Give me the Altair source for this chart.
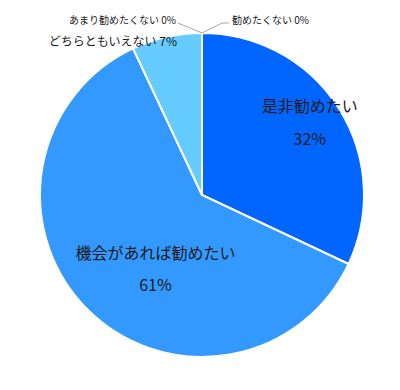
import altair as alt
import pandas as pd

categories = ["是非勧めたい", "機会があれば勧めたい", "どちらともいえない", "あまり勧めたくない", "勧めたくない"]
values = [32, 61, 7, 0.0001, 0.0001]
pct_labels = ["32%", "61%", "7%", "0%", "0%"]
colors = ["#0066FF", "#3399FF", "#66CCFF", "#99DDFF", "#CCEEFF"]

df = pd.DataFrame({
    "cat": categories,
    "val": values,
    "pct": pct_labels,
    "order": list(range(len(categories))),
})

CX, CY, R = 194, 187, 162
FONT = "Noto Sans CJK JP"

base = alt.Chart(df).transform_stack(
    stack="val", as_=["t0", "t1"], groupby=[], sort=[alt.SortField("order", "ascending")]
).transform_calculate(mid="(datum.t0 + datum.t1) / 2")

theta_scale = alt.Scale(domain=[0, sum(values)])

pie = base.mark_arc(outerRadius=R, stroke="white", strokeWidth=2).encode(
    theta=alt.Theta("t0:Q", scale=theta_scale),
    theta2="t1:Q",
    color=alt.Color("cat:N", scale=alt.Scale(domain=categories, range=colors), legend=None),
    x=alt.value(CX), y=alt.value(CY),
)

def label(idx, text_expr, radius, dx=0, dy=0, size=16, align="center", line_height=33):
    return base.transform_filter(alt.datum.order == idx).transform_calculate(
        lab=text_expr
    ).mark_text(
        radius=radius, dx=dx, dy=dy, fontSize=size, font=FONT, align=align,
        baseline="middle", lineBreak="\n", lineHeight=line_height, color="#1a1a1a",
    ).encode(
        theta=alt.Theta("mid:Q", scale=theta_scale),
        text="lab:N", x=alt.value(CX), y=alt.value(CY),
    )

l1 = label(0, "datum.cat + '\\n' + datum.pct", 130, dx=-2, dy=-18)
l2 = label(1, "datum.cat + '\\n' + datum.pct", 80, dx=10, dy=2, line_height=32)
l3 = label(2, "datum.cat + ' ' + datum.pct", 165, dx=11, dy=8, size=12, align="right")

# 0% labels with leader lines
top_y = CY - R
left_txt = alt.Chart(df).transform_filter(alt.datum.order == 3).transform_calculate(
    lab="datum.cat + ' ' + datum.pct"
).mark_text(fontSize=10, font=FONT, align="right", baseline="middle", color="#1a1a1a").encode(
    text="lab:N", x=alt.value(CX - 26), y=alt.value(top_y - 12)
)
right_txt = alt.Chart(df).transform_filter(alt.datum.order == 4).transform_calculate(
    lab="datum.cat + ' ' + datum.pct"
).mark_text(fontSize=10, font=FONT, align="left", baseline="middle", color="#1a1a1a").encode(
    text="lab:N", x=alt.value(CX + 30), y=alt.value(top_y - 12)
)
lead_l = alt.Chart(df).transform_filter(alt.datum.order == 3).mark_rule(color="#a6a6a6", strokeWidth=1).encode(
    x=alt.value(CX), y=alt.value(top_y), x2=alt.value(CX - 24), y2=alt.value(top_y - 10)
)
lead_r = alt.Chart(df).transform_filter(alt.datum.order == 4).mark_rule(color="#a6a6a6", strokeWidth=1).encode(
    x=alt.value(CX), y=alt.value(top_y), x2=alt.value(CX + 20), y2=alt.value(top_y - 10)
)
lead_r2 = alt.Chart(df).transform_filter(alt.datum.order == 4).mark_rule(color="#a6a6a6", strokeWidth=1).encode(
    x=alt.value(CX + 20), y=alt.value(top_y - 10), x2=alt.value(CX + 27), y2=alt.value(top_y - 10)
)

chart = alt.layer(pie, l1, l2, l3, lead_l, lead_r, lead_r2, left_txt, right_txt).properties(
    width=384, height=370, padding=0, background="white",
    autosize=alt.AutoSizeParams(type="none"),
).configure_view(strokeWidth=0, stroke="transparent")

chart.save("out.html", embed_options={"renderer": "svg", "actions": False})
